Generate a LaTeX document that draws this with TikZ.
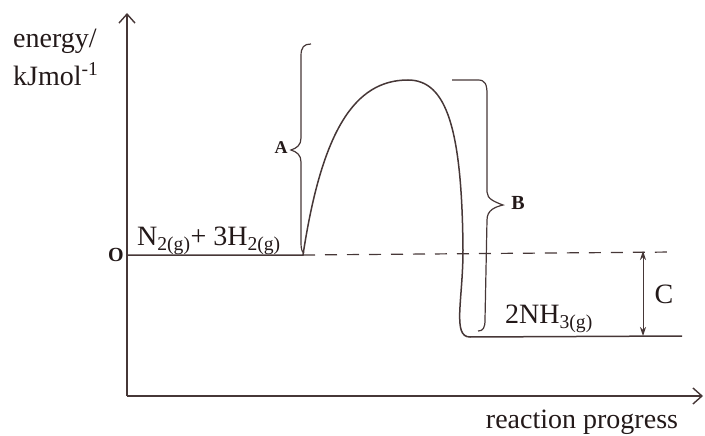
\documentclass[tikz,border=0pt]{standalone}
\usepackage{fontspec}
\setmainfont{Liberation Serif}
\usetikzlibrary{arrows.meta}
\definecolor{ink}{RGB}{70,55,55}
\definecolor{txt}{RGB}{35,25,25}
\begin{document}
\begin{tikzpicture}[x=1pt,y=-1pt,
  lineink/.style={line width=1.5pt, draw=ink},
  axisline/.style={lineink, -{Straight Barb[length=9pt,width=16pt,line width=1.4pt]}},
  bracestyle/.style={line width=1.2pt, draw=ink},
  big/.style={text=txt, inner sep=0pt, font=\fontsize{28}{30}\selectfont},
  boldlabel/.style={text=txt, inner sep=0pt, font=\fontsize{20}{22}\selectfont\bfseries}]
\useasboundingbox (0,0) rectangle (705,436);
% axes
\coordinate (origin) at (127,396);
\coordinate (ytip) at (127,13);
\coordinate (xtip) at (703,396);
\draw[axisline] (origin) -- (ytip);
\draw[axisline] (origin) -- (xtip);
% energy profile
\coordinate (r0) at (128,255);
\coordinate (r1) at (303,255);
\coordinate (peak) at (408,80);
\coordinate (mid) at (463,250);
\coordinate (p0) at (470,337);
\coordinate (p1) at (682,336);
\coordinate (d1) at (675,252);
\draw[lineink] (r0) -- (r1) .. controls (322,130) and (355,80) .. (peak)
  .. controls (447,80) and (462,130) .. (mid)
  .. controls (463,300) and (452,337) .. (p0) -- (p1);
\draw[line width=1.2pt, draw=ink, dash pattern=on 12pt off 10pt] (r1) -- (d1);
% C arrow
\coordinate (ctop) at (643,251);
\coordinate (cbot) at (643,336);
\draw[line width=1pt, draw=ink, {Stealth[length=9pt,width=6pt]}-{Stealth[length=9pt,width=6pt]}] (ctop) -- (cbot);
% brace A
\draw[bracestyle] (311,44) .. controls (304,44) and (301,47) .. (301,56) -- (301,138)
  .. controls (301,145) and (297,148) .. (291,150)
  .. controls (297,152) and (301,155) .. (301,162) -- (301,243)
  .. controls (301,249) and (302,252) .. (304,253);
% brace B
\draw[bracestyle] (452,80) -- (478,80) .. controls (485,80) and (487,84) .. (487,94) -- (487,192)
  .. controls (487,199) and (495,202) .. (503,205)
  .. controls (495,207) and (487,210) .. (487,220) -- (485,320)
  .. controls (485,328) and (483,331) .. (478,331);
% labels
\node[big, anchor=base west] (elabel) at (13,48) {energy/};
\node[big, anchor=base west] (ulabel) at (13,85) {kJmol\textsuperscript{-1}};
\node[big, anchor=base west] (react) at (137,245) {N\textsubscript{2(g)}+ 3H\textsubscript{2(g)}};
\node[big, anchor=base west] (prod) at (505,323) {2NH\textsubscript{3(g)}};
\node[big] (clabel) at (664,294) {C};
\node[boldlabel, font=\fontsize{18}{20}\selectfont\bfseries] (alabel) at (281,148) {A};
\node[boldlabel] (blabel) at (518,203) {B};
\node[boldlabel] (olabel) at (116,255) {O};
\node[big, anchor=base] (xlabel) at (582,428) {reaction progress};
\end{tikzpicture}
\end{document}
